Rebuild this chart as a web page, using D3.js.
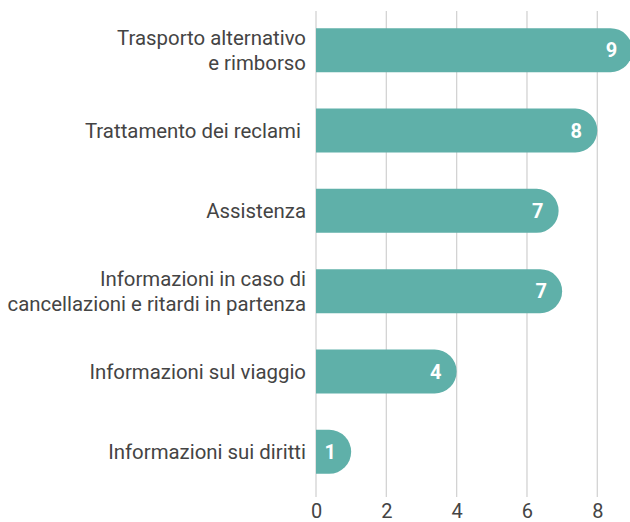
<!DOCTYPE html>
<html><head><meta charset="utf-8">
<script src="https://cdn.jsdelivr.net/npm/d3@7"></script>
<style>
html,body{margin:0;padding:0;background:#fff;}
svg{display:block;font-family:Roboto, "Noto Sans", sans-serif;}
</style></head>
<body>
<svg id="chart" width="630" height="522"></svg>
<script>
const categories = [
  ["Trasporto alternativo", "e rimborso"],
  ["Trattamento dei reclami "],
  ["Assistenza"],
  ["Informazioni in caso di", "cancellazioni e ritardi in partenza"],
  ["Informazioni sul viaggio"],
  ["Informazioni sui diritti"]
];
const values = [9, 8, 6.9, 7, 4, 1];
const valueLabels = ["9", "8", "7", "7", "4", "1"];
const xTicks = [0, 2, 4, 6, 8];

const svg = d3.select("#chart");
const x = d3.scaleLinear().domain([0, 8]).range([316, 597.3]);
const ids = categories.map((d, i) => i);
const y = d3.scaleBand().domain(ids).range([10, 492]).paddingInner(0.453).paddingOuter(0.2265);
const bh = y.bandwidth();

// grid
svg.append("g").selectAll("line").data(xTicks).join("line")
  .attr("x1", d => x(d)).attr("x2", d => x(d))
  .attr("y1", 11).attr("y2", 497)
  .attr("stroke", "#d3d3d3").attr("stroke-width", 1.3);

// axis labels
const axis = d3.axisBottom(x).tickValues(xTicks).tickSize(0).tickPadding(0);
const ag = svg.append("g").attr("transform", "translate(0,0)").call(axis);
ag.select(".domain").remove();
ag.selectAll("text").attr("font-size", 20).attr("fill", "#444")
  .attr("font-family", "Roboto, sans-serif").attr("dy", 0).attr("y", 518);

// bars with rounded right end
function barPath(x0, x1, y0, h) {
  const rr = Math.min(h / 2, x1 - x0);
  return `M${x0},${y0}H${x1 - rr}A${rr},${h/2} 0 0 1 ${x1},${y0 + h/2}A${rr},${h/2} 0 0 1 ${x1 - rr},${y0 + h}H${x0}Z`;
}
svg.append("g").selectAll("path").data(values).join("path")
  .attr("d", (d, i) => barPath(x(0), x(d), y(i), bh))
  .attr("fill", "#5fb0a9");

// value labels
svg.append("g").selectAll("text").data(values).join("text")
  .attr("x", d => x(d) - 21)
  .attr("y", (d, i) => y(i) + bh / 2 + 7)
  .attr("text-anchor", "middle")
  .attr("font-size", 20).attr("font-weight", 700).attr("fill", "#fff")
  .text((d, i) => valueLabels[i]);

// category labels
const lg = svg.append("g");
categories.forEach((lines, i) => {
  const cy = y(i) + bh / 2;
  const lh = 25;
  const t = lg.append("text")
    .attr("text-anchor", "end")
    .attr("font-size", 20.4).attr("fill", "#444")
    .style("white-space", "pre");
  lines.forEach((ln, j) => {
    t.append("tspan").attr("x", 306)
      .attr("y", cy + 7 + (j - (lines.length - 1) / 2) * lh)
      .text(ln);
  });
});
</script>
</body></html>
